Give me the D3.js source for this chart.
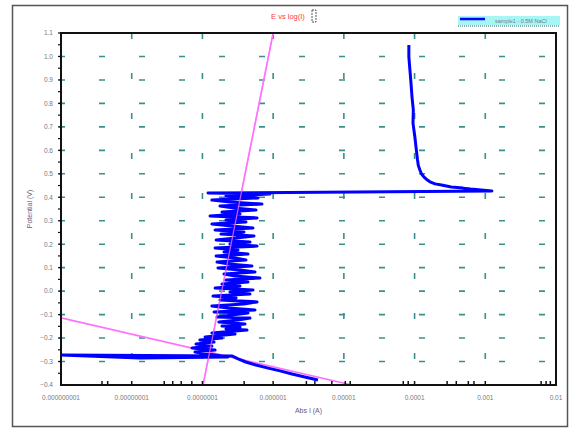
<!DOCTYPE html>
<html>
<head>
<meta charset="utf-8">
<script src="https://cdn.jsdelivr.net/npm/d3@7"></script>
<style>
  body { margin: 0; background: #fff; }
  text { font-family: "Liberation Sans", Arial, sans-serif; }
</style>
</head>
<body>
<div id="chart"></div>
<script>
// potential (V) and absolute current (A), in scan order
var potential = [
  // cathodic branch
  -0.379, -0.366, -0.353, -0.340, -0.328, -0.315, -0.302, -0.289, -0.276,
  -0.272, -0.285, -0.281,
  // passive region
  -0.259, -0.251, -0.242, -0.234, -0.225, -0.217, -0.208, -0.200, -0.195, -0.183,
  -0.178, -0.166, -0.161, -0.153, -0.149, -0.140, -0.132, -0.123, -0.115, -0.110,
  -0.102, -0.093, -0.089, -0.080, -0.072, -0.063, -0.055, -0.046, -0.038, -0.029,
  -0.021, -0.012, -0.004, 0.005, 0.013, 0.022, 0.030, 0.039, 0.047, 0.056,
  0.064, 0.073, 0.082, 0.090, 0.099, 0.107, 0.116, 0.124, 0.133, 0.141,
  0.150, 0.158, 0.167, 0.175, 0.184, 0.192, 0.201, 0.209, 0.218, 0.226,
  0.235, 0.243, 0.252, 0.261, 0.269, 0.278, 0.286, 0.295, 0.303, 0.312,
  0.320, 0.329, 0.337, 0.346, 0.354, 0.363, 0.371, 0.380, 0.388, 0.397,
  0.405, 0.414, 0.418,
  // breakdown
  0.427, 0.435, 0.439, 0.444, 0.452, 0.457, 0.466, 0.476, 0.486, 0.500,
  0.516, 0.535, 0.560, 0.601, 0.657, 0.716, 0.772, 0.827, 0.887, 0.942,
  0.998, 1.049
];
var current = [
  4.3e-6, 2.8e-6, 1.85e-6, 1.25e-6, 8.5e-7, 5.7e-7, 4.1e-7, 3.2e-7, 2.6e-7,
  9e-10, 1.3e-8, 2.3e-7,
  7.85e-8, 1.51e-7, 7.12e-8, 1.36e-7, 8.1e-8, 1.46e-7, 9.2e-8, 1.89e-7, 1.09e-7, 2.89e-7,
  1.36e-7, 4.27e-7, 2.15e-7, 3.4e-7, 1.89e-7, 4.0e-7, 1.71e-7, 3.18e-7, 4.71e-7, 1.61e-7,
  2.62e-7, 4.41e-7, 1.46e-7, 5.54e-7, 2.3e-7, 1.36e-7, 3.87e-7, 5.92e-7, 1.77e-7, 2.99e-7,
  1.41e-7, 4.71e-7, 2.45e-7, 5.19e-7, 1.51e-7, 3.4e-7, 1.89e-7, 4.41e-7, 2.15e-7, 6.52e-7,
  2.89e-7, 2.02e-7, 5.54e-7, 3.4e-7, 1.66e-7, 5.02e-7, 2.37e-7, 1.61e-7, 4.13e-7, 2.89e-7,
  1.56e-7, 4.41e-7, 2.02e-7, 3.18e-7, 1.51e-7, 5.92e-7, 2.45e-7, 4.71e-7, 1.56e-7, 2.99e-7,
  5.36e-7, 1.83e-7, 3.87e-7, 1.51e-7, 5.19e-7, 2.62e-7, 1.36e-7, 4.13e-7, 2.15e-7, 5.92e-7,
  1.28e-7, 3.4e-7, 1.89e-7, 5.73e-7, 2.79e-7, 1.77e-7, 6.95e-7, 2.45e-7, 1.36e-7, 6.11e-7,
  2.15e-7, 9.02e-7, 1.2e-7,
  1.24e-3, 6.2e-4, 4.84e-4, 3.3e-4, 2.4e-4, 1.95e-4, 1.65e-4, 1.48e-4, 1.36e-4, 1.25e-4,
  1.19e-4, 1.13e-4, 1.1e-4, 1.06e-4, 1.01e-4, 9.5e-5, 9.6e-5, 9.2e-5, 8.9e-5, 8.6e-5,
  8.3e-5, 8.3e-5
];

// Tafel fit lines (end points)
var tafelAnodicI = [1.0e-6, 1.02e-7];
var tafelAnodicE = [1.1, -0.4];
var tafelCathodicI = [1e-9, 1.3e-5];
var tafelCathodicE = [-0.114, -0.4];

var xTickValues = [1e-9, 1e-8, 1e-7, 1e-6, 1e-5, 1e-4, 1e-3, 1e-2];
var xTickLabels = ["0.000000001", "0.00000001", "0.0000001", "0.000001",
                   "0.00001", "0.0001", "0.001", "0.01"];
var xMinorExp = [-8.42, -8.34, -8.0, -7.54, -7.42, -7.30, -7.15, -7.0, -6.41, -6.0,
                 -5.53, -5.41, -5.17, -4.98, -4.91, -4.16, -4.09, -4.0, -3.54, -3.41,
                 -3.24, -3.16, -3.0, -2.21, -2.14, -2.08];
var yTickValues = [1.1, 1.0, 0.9, 0.8, 0.7, 0.6, 0.5, 0.4, 0.3, 0.2, 0.1, 0.0,
                   -0.1, -0.2, -0.3, -0.4];

var width = 572;
var height = 430;
var mLeft = 61, mRight = 556, mTop = 33, mBottom = 385;

var svg = d3.select("#chart").append("svg")
  .attr("width", width)
  .attr("height", height);

// outer frame
svg.append("rect")
  .attr("x", 12.5).attr("y", 5.5)
  .attr("width", 555).attr("height", 421)
  .attr("fill", "#fff")
  .attr("stroke", "#555")
  .attr("stroke-width", 1.5);

var x = d3.scaleLog().domain([1e-9, 1e-2]).range([mLeft, mRight]);
var y = d3.scaleLinear().domain([-0.4, 1.1]).range([mBottom, mTop]);

svg.append("clipPath").attr("id", "plotClip")
  .append("rect")
  .attr("x", mLeft).attr("y", mTop)
  .attr("width", mRight - mLeft).attr("height", mBottom - mTop);

// dashed grid
var grid = svg.append("g").attr("stroke", "#3a8f8a").attr("stroke-width", 1.6);
grid.selectAll(".hgrid")
  .data(yTickValues.filter(function(v) { return v < 1.05 && v > -0.35; }))
  .enter().append("line")
  .attr("x1", mLeft - 2).attr("x2", mRight)
  .attr("y1", function(d) { return y(d); })
  .attr("y2", function(d) { return y(d); })
  .attr("stroke-dasharray", "6,34");
grid.selectAll(".vgrid")
  .data(xTickValues.slice(1, -1))
  .enter().append("line")
  .attr("x1", function(d) { return x(d); })
  .attr("x2", function(d) { return x(d); })
  .attr("y1", mTop).attr("y2", mBottom)
  .attr("stroke-dasharray", "6,34");

// Tafel lines
var plot = svg.append("g").attr("clip-path", "url(#plotClip)");
var curveLine = d3.line()
  .x(function(d) { return x(d[0]); })
  .y(function(d) { return y(d[1]); });
plot.append("path")
  .attr("d", curveLine(d3.zip(tafelAnodicI, tafelAnodicE)))
  .attr("fill", "none").attr("stroke", "#ff70ff").attr("stroke-width", 1.6);
plot.append("path")
  .attr("d", curveLine(d3.zip(tafelCathodicI, tafelCathodicE)))
  .attr("fill", "none").attr("stroke", "#ff70ff").attr("stroke-width", 1.6);

// polarisation curve
plot.append("path")
  .attr("d", curveLine(d3.zip(current, potential)))
  .attr("fill", "none")
  .attr("stroke", "#0000ff")
  .attr("stroke-width", 3)
  .attr("stroke-linejoin", "round");

// the fit lines sit over the curve in the reference
plot.append("path")
  .attr("d", curveLine(d3.zip(tafelAnodicI, tafelAnodicE)))
  .attr("fill", "none").attr("stroke", "#ff70ff").attr("stroke-width", 1.2)
  .attr("opacity", 0.8);

// frame
svg.append("rect")
  .attr("x", mLeft).attr("y", mTop)
  .attr("width", mRight - mLeft).attr("height", mBottom - mTop)
  .attr("fill", "none")
  .attr("stroke", "#111")
  .attr("stroke-width", 2);

// x minor ticks
svg.selectAll(".xminor")
  .data(xMinorExp)
  .enter().append("line")
  .attr("x1", function(d) { return x(Math.pow(10, d)); })
  .attr("x2", function(d) { return x(Math.pow(10, d)); })
  .attr("y1", mBottom).attr("y2", mBottom - 4)
  .attr("stroke", "#111").attr("stroke-width", 1.5);

// y minor ticks
svg.selectAll(".yminor")
  .data(d3.range(-0.35, 1.1, 0.05))
  .enter().append("line")
  .attr("x1", mLeft - 3).attr("x2", mLeft)
  .attr("y1", function(d) { return y(d); })
  .attr("y2", function(d) { return y(d); })
  .attr("stroke", "#111").attr("stroke-width", 1.2);

// tick labels
svg.selectAll(".xlab")
  .data(xTickValues)
  .enter().append("text")
  .attr("x", function(d) { return x(d); })
  .attr("y", 400)
  .attr("text-anchor", "middle")
  .attr("font-size", 6.5)
  .attr("fill", "#777")
  .text(function(d, i) { return xTickLabels[i]; });

svg.selectAll(".ylab")
  .data(yTickValues)
  .enter().append("text")
  .attr("x", 53)
  .attr("y", function(d) { return y(d) + 2.3; })
  .attr("text-anchor", "end")
  .attr("font-size", 6.5)
  .attr("fill", "#777")
  .text(function(d) { return d3.format(".1f")(d); });

// axis titles
svg.append("text")
  .attr("transform", "translate(32," + ((mTop + mBottom) / 2) + ") rotate(-90)")
  .attr("text-anchor", "middle")
  .attr("font-size", 7)
  .attr("fill", "#6a5a80")
  .text("Potential (V)");

svg.append("text")
  .attr("x", (mLeft + mRight) / 2)
  .attr("y", 413)
  .attr("text-anchor", "middle")
  .attr("font-size", 7)
  .attr("fill", "#6a5a80")
  .text("Abs I (A)");

// chart title
svg.append("text")
  .attr("x", 288)
  .attr("y", 19)
  .attr("text-anchor", "middle")
  .attr("font-size", 7.5)
  .attr("fill", "#ff3a3a")
  .text("E vs log(I)");
svg.append("rect")
  .attr("x", 312).attr("y", 10)
  .attr("width", 4).attr("height", 12)
  .attr("fill", "#fff")
  .attr("stroke", "#555").attr("stroke-width", 1)
  .attr("stroke-dasharray", "2,1");

// legend
var legend = svg.append("g");
legend.append("rect")
  .attr("x", 458).attr("y", 16)
  .attr("width", 102).attr("height", 9)
  .attr("fill", "#a6f6f6");
legend.append("line")
  .attr("x1", 460).attr("x2", 485)
  .attr("y1", 19).attr("y2", 19)
  .attr("stroke", "#0000ff").attr("stroke-width", 2.5);
legend.append("text")
  .attr("x", 495).attr("y", 22.5)
  .attr("font-size", 5.5)
  .attr("fill", "#778")
  .text("sample1 - 0.5M NaCl");
legend.append("line")
  .attr("x1", 458).attr("x2", 560)
  .attr("y1", 26).attr("y2", 26)
  .attr("stroke", "#336666").attr("stroke-width", 1.2)
  .attr("stroke-dasharray", "1,1");
</script>
</body>
</html>
